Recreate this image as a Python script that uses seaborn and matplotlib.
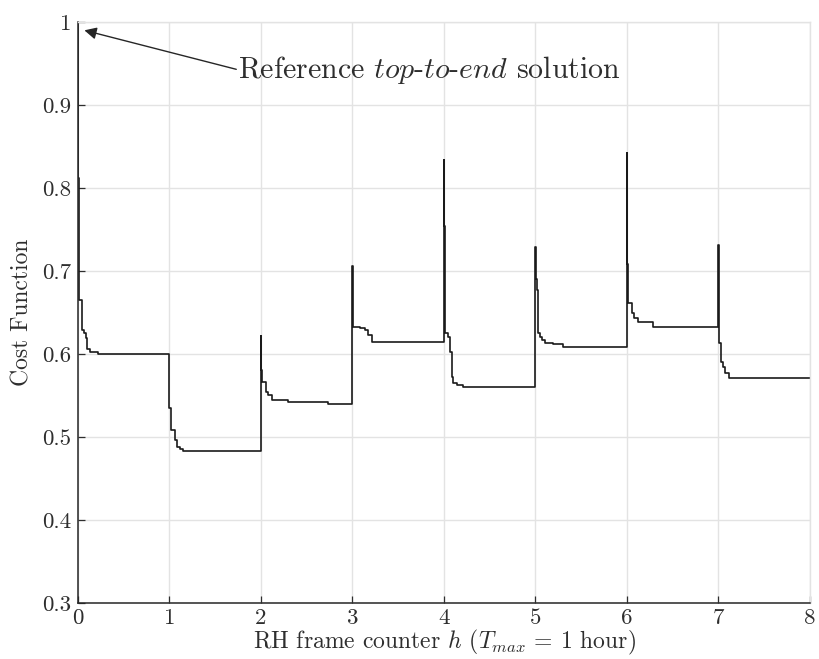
import numpy as np
import pandas as pd
import matplotlib
matplotlib.use("Agg")
import matplotlib.pyplot as plt
import seaborn as sns

# Receding-horizon frames: per frame, time offsets (fraction of the frame)
# at which the cost function changes and the new cost value.
frame_starts = [0, 1, 2, 3, 4, 5, 6, 7]
frame_offsets = [
    [0.0, 0.003, 0.006, 0.009, 0.047, 0.066, 0.087, 0.10, 0.13, 0.22],
    [0.0, 0.013, 0.057, 0.082, 0.115, 0.148],
    [0.0, 0.004, 0.008, 0.055, 0.077, 0.12, 0.295, 0.73],
    [0.0, 0.006, 0.08, 0.137, 0.17, 0.21],
    [0.0, 0.003, 0.006, 0.01, 0.044, 0.066, 0.087, 0.10, 0.14, 0.21],
    [0.0, 0.004, 0.008, 0.012, 0.03, 0.05, 0.07, 0.10, 0.19, 0.30],
    [0.0, 0.004, 0.008, 0.012, 0.05, 0.075, 0.12, 0.28],
    [0.0, 0.01, 0.03, 0.05, 0.07, 0.12],
]
frame_costs = [
    [1.0, 0.812, 0.74, 0.665, 0.629, 0.625, 0.619, 0.606, 0.602, 0.600],
    [0.535, 0.508, 0.496, 0.488, 0.486, 0.483],
    [0.622, 0.581, 0.566, 0.554, 0.551, 0.545, 0.542, 0.540],
    [0.706, 0.633, 0.631, 0.629, 0.623, 0.614],
    [0.834, 0.754, 0.70, 0.625, 0.620, 0.602, 0.572, 0.565, 0.563, 0.560],
    [0.729, 0.706, 0.690, 0.677, 0.625, 0.620, 0.617, 0.613, 0.612, 0.608],
    [0.842, 0.708, 0.685, 0.661, 0.649, 0.643, 0.639, 0.632],
    [0.731, 0.613, 0.590, 0.584, 0.577, 0.571],
]
horizon_end = 8
x_ticks = [0, 1, 2, 3, 4, 5, 6, 7, 8]
y_ticks = [0.3, 0.4, 0.5, 0.6, 0.7, 0.8, 0.9, 1.0]
y_tick_labels = ["0.3", "0.4", "0.5", "0.6", "0.7", "0.8", "0.9", "1"]

h_vals, cost_vals = [], []
for start, offs, costs in zip(frame_starts, frame_offsets, frame_costs):
    h_vals += [start + o for o in offs]
    cost_vals += costs
h_vals.append(horizon_end)
cost_vals.append(frame_costs[-1][-1])
df = pd.DataFrame({"h": h_vals, "cost": cost_vals})

sns.set_style("ticks")
plt.rcParams["font.family"] = ["cmr10", "DejaVu Serif"]
plt.rcParams["mathtext.fontset"] = "cm"
plt.rcParams["axes.formatter.use_mathtext"] = True

grid_col = "#e3e3e3"
text_col = "#2e2e2e"

fig = plt.figure(figsize=(8.19, 6.59), dpi=100)
ax = fig.add_axes([0.0952, 0.085, 0.8938, 0.8816])

sns.lineplot(data=df, x="h", y="cost", ax=ax, sort=False, estimator=None,
             drawstyle="steps-post", color="#1a1a1a", linewidth=1.2)

ax.set_xlim(0, 8)
ax.set_ylim(0.3, 1.0)
ax.set_xticks(x_ticks)
ax.set_xticklabels([str(t) for t in x_ticks])
ax.set_yticks(y_ticks)
ax.set_yticklabels(y_tick_labels)
ax.grid(True, color=grid_col, linewidth=1.0)
ax.set_axisbelow(True)

for side in ("left", "bottom"):
    ax.spines[side].set_color("#262626")
    ax.spines[side].set_linewidth(1.1)
for side in ("top", "right"):
    ax.spines[side].set_color(grid_col)
    ax.spines[side].set_linewidth(1.0)

ax.tick_params(direction="in", length=5, width=0.9, colors=text_col,
               labelsize=16.5, pad=5, top=False, right=False)
ax.tick_params(axis="x", pad=4)

ax.set_xlabel(r"RH frame counter $h$ ($T_{max}$ = 1 hour)", fontsize=17,
              color=text_col, labelpad=0)
ax.set_ylabel("Cost Function", fontsize=17, color=text_col, labelpad=6)

ax.text(1.75, 0.942, r"Reference $\mathit{top}$-$\mathit{to}$-$\mathit{end}$ solution",
        fontsize=21.5, color=text_col, va="center", ha="left")
ax.annotate("", xy=(0.07, 0.990), xytext=(1.73, 0.943),
            arrowprops=dict(arrowstyle="-|>", color="#262626", lw=1.0,
                            mutation_scale=18, shrinkA=0, shrinkB=0))

fig.savefig("out.png", dpi=100)
